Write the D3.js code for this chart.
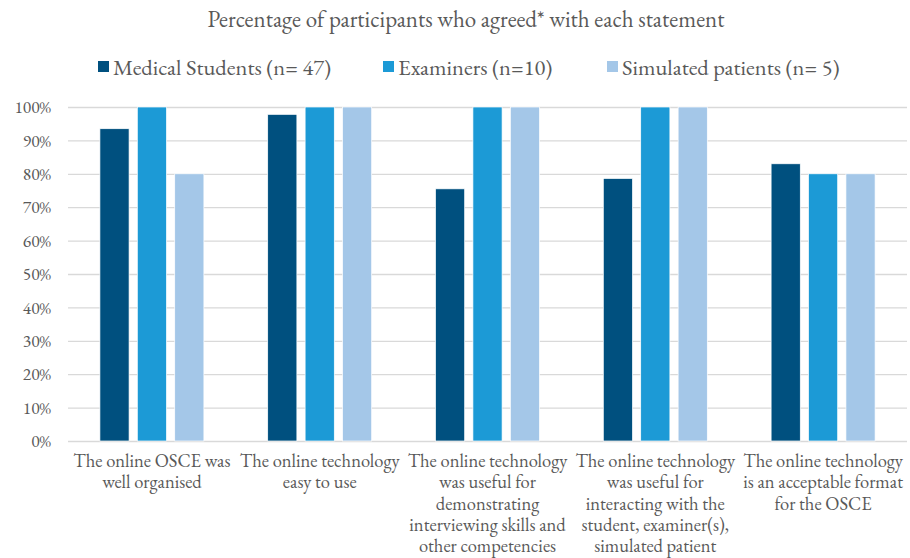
<!DOCTYPE html>
<html>
<head>
<meta charset="utf-8">
<script src="https://cdn.jsdelivr.net/npm/d3@7"></script>
<style>
  body { margin: 0; background: #fff; }
</style>
</head>
<body>
<script>
// data
var categories = [
  ["The online OSCE was", "well organised"],
  ["The online technology", "easy to use"],
  ["The online technology", "was useful for", "demonstrating", "interviewing skills and", "other competencies"],
  ["The online technology", "was useful for", "interacting with the", "student, examiner(s),", "simulated patient"],
  ["The online technology", "is an acceptable format", "for the OSCE"]
];
var seriesNames = ["Medical Students (n= 47)", "Examiners (n=10)", "Simulated patients (n= 5)"];
var students = [93.5, 97.8, 75.5, 78.6, 83.0];
var examiners = [100, 100, 100, 100, 80];
var patients = [80, 100, 100, 100, 80];
var yTicks = [0, 10, 20, 30, 40, 50, 60, 70, 80, 90, 100];
var colors = ["#00507f", "#1c9ad6", "#a4c7e8"];

var width = 910, height = 558;
var plotLeft = 68, plotRight = 907, plotTop = 107, plotBottom = 441;
var font = "'EB Garamond', 'Liberation Serif', serif";
var textColor = '#595959';

var svg = d3.select('body').append('svg')
  .attr('width', width)
  .attr('height', height)
  .attr('font-family', font);

// title
svg.append('text')
  .attr('x', 466)
  .attr('y', 27)
  .attr('text-anchor', 'middle')
  .attr('font-family', font)
  .attr('font-size', 23)
  .attr('fill', textColor)
  .text('Percentage of participants who agreed* with each statement');

// legend
var legendX = [98, 383, 607];
seriesNames.forEach(function(name, i) {
  svg.append('rect')
    .attr('x', legendX[i])
    .attr('y', 61)
    .attr('width', 11)
    .attr('height', 11)
    .attr('fill', colors[i]);
  svg.append('text')
    .attr('x', legendX[i] + 15)
    .attr('y', 75)
    .attr('font-family', font)
    .attr('font-size', 22.5)
    .attr('fill', textColor)
    .text(name);
});

var x0 = d3.scaleBand()
  .domain(d3.range(categories.length))
  .range([plotLeft, plotRight]);
var x1 = d3.scaleBand()
  .domain(d3.range(3))
  .range([0, 104])
  .paddingInner(0.22);
var y = d3.scaleLinear().domain([0, 100]).range([plotBottom, plotTop]);

// gridlines
svg.append('g').selectAll('line')
  .data(yTicks)
  .enter().append('line')
  .attr('x1', plotLeft).attr('x2', plotRight)
  .attr('y1', function(d) { return y(d) + 0.5; })
  .attr('y2', function(d) { return y(d) + 0.5; })
  .attr('stroke', '#d9d9d9')
  .attr('stroke-width', 1.3);

// y labels
var yAxis = svg.append('g')
  .attr('transform', 'translate(' + (plotLeft - 14) + ',0)')
  .call(d3.axisLeft(y).tickValues(yTicks).tickFormat(function(d) { return d + '%'; }).tickSize(0));
yAxis.select('.domain').remove();
yAxis.attr('font-family', font).attr('font-size', 17.5);
yAxis.selectAll('text')
  .attr('fill', textColor)
  .attr('dy', '0.32em');

// bars
var rows = categories.map(function(c, i) { return [students[i], examiners[i], patients[i]]; });
var groups = svg.append('g').selectAll('g')
  .data(rows)
  .enter().append('g')
  .attr('transform', function(d, i) { return 'translate(' + (x0(i) + (x0.bandwidth() - 104) / 2) + ',0)'; });
groups.selectAll('rect')
  .data(function(d) { return d; })
  .enter().append('rect')
  .attr('x', function(d, j) { return x1(j); })
  .attr('y', function(d) { return y(d); })
  .attr('width', x1.bandwidth())
  .attr('height', function(d) { return y(0) - y(d); })
  .attr('fill', function(d, j) { return colors[j]; })
  .attr('stroke', '#ffffff')
  .attr('stroke-width', 0.7);

// category labels
var lab = svg.append('g').selectAll('text')
  .data(categories)
  .enter().append('text')
  .attr('text-anchor', 'middle')
  .attr('x', function(d, i) { return x0(i) + x0.bandwidth() / 2; })
  .attr('y', 467)
  .attr('font-family', font)
  .attr('font-size', 18.5)
  .attr('fill', textColor);
lab.selectAll('tspan')
  .data(function(d) { return d; })
  .enter().append('tspan')
  .attr('x', function() { return d3.select(this.parentNode).attr('x'); })
  .attr('dy', function(d, k) { return k === 0 ? 0 : 21.3; })
  .text(function(d) { return d; });
</script>
</body>
</html>
